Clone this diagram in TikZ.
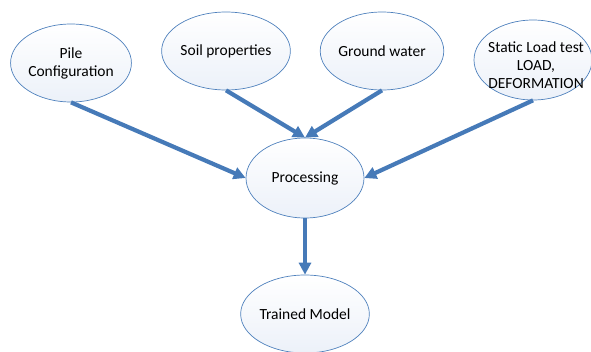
\documentclass[tikz,border=0pt]{standalone}
\usepackage{fontspec}
\setmainfont{Carlito}
\usetikzlibrary{shapes.geometric,arrows.meta}
\definecolor{edgeblue}{RGB}{79,129,189}
\definecolor{arrowblue}{RGB}{70,122,184}
\definecolor{fillblue}{RGB}{236,241,249}
\begin{document}
\begin{tikzpicture}[x=1pt,y=-1pt,
  blob/.style={ellipse,draw=edgeblue,line width=0.7pt,minimum width=118pt,minimum height=78pt,inner sep=0pt,
    top color=white,bottom color=fillblue,align=center,font=\fontsize{15.5}{18}\selectfont},
  flow/.style={draw=arrowblue,line width=4.2pt,-{Triangle[length=12pt,width=12pt]}}]
\useasboundingbox (0,0) rectangle (591,351);
\node[blob] (pile) at (71,63) {Pile\\Configuration};
\node[blob] (soil) at (226,51) {Soil properties};
\node[blob] (ground) at (382,51) {Ground water};
\node[blob,minimum height=80pt] (static) at (533,60) {};
\node[align=center,font=\fontsize{15.5}{18}\selectfont] (stext) at (536,65) {Static Load test\\LOAD,\\DEFORMATION};
\node[blob,minimum height=80pt] (proc) at (305,178) {Processing};
\node[blob] (trained) at (305,314) {Trained Model};
\draw[flow] (pile.south) -- (proc.west);
\draw[flow] (soil.south) -- (proc.north);
\draw[flow] (ground.south) -- (proc.north);
\draw[flow] (static.south) -- (proc.east);
\draw[flow] (proc.south) -- (trained.north);
\end{tikzpicture}
\end{document}
